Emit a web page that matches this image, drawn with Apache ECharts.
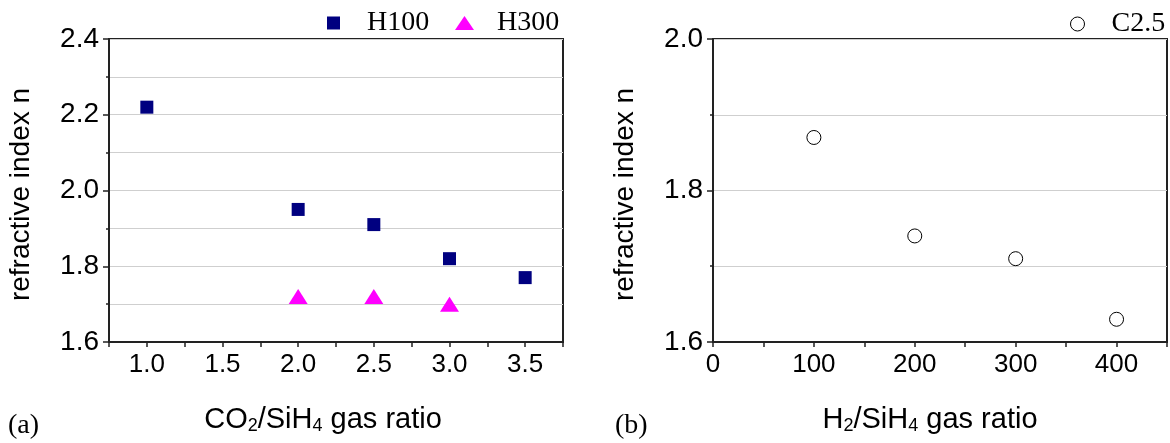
<!DOCTYPE html>
<html>
<head>
<meta charset="utf-8">
<script src="https://cdn.jsdelivr.net/npm/echarts@6/dist/echarts.min.js"></script>
<style>
  html, body { margin: 0; padding: 0; background: #fff; }
</style>
</head>
<body>
<div id="refractiveChart" style="width: 1170px;height:443px;"></div>
<script>
// (a) 折射率 vs CO2/SiH4
const xCO2H100 = [1.0, 2.0, 2.5, 3.0, 3.5]
const nH100 = [2.22, 1.95, 1.91, 1.82, 1.77]
const xCO2H300 = [2.0, 2.5, 3.0]
const nH300 = [1.72, 1.72, 1.70]
// (b) 折射率 vs H2/SiH4
const xH2C25 = [100, 200, 300, 400]
const nC25 = [1.87, 1.74, 1.71, 1.63]

const sans = 'Liberation Sans'
const serif = 'Liberation Serif'

function pairs (xs, ys) {
  return xs.map(function (x, i) { return [x, ys[i]] })
}

function nameRich () {
  return {
    t: {fontSize: 29, fontFamily: sans, color: '#000'},
    s: {fontSize: 18, fontFamily: sans, color: '#000', padding: [12, 0, 0, 0]}
  }
}

function yAxisCommon (min, max, gridIndex) {
  return {
    type: 'value',
    gridIndex: gridIndex,
    min: min,
    max: max,
    interval: 0.2,
    name: 'refractive index n',
    nameLocation: 'middle',
    nameGap: 74,
    nameTextStyle: {fontSize: 28, fontFamily: sans, color: '#000', padding: [0, 8, 0, 0]},
    axisLine: {show: true, lineStyle: {color: '#222', width: 2}},
    axisTick: {show: true, length: 6, lineStyle: {color: '#222', width: 1.5}},
    minorTick: {show: true, splitNumber: 2, length: 3, lineStyle: {color: '#222', width: 1.5}},
    axisLabel: {
      fontSize: 28,
      fontFamily: sans,
      color: '#000',
      margin: 10,
      formatter: function (v) { return v.toFixed(1) }
    },
    splitLine: {show: true, lineStyle: {color: '#cfcfcf', width: 1}},
    minorSplitLine: {show: true, lineStyle: {color: '#cfcfcf', width: 1}}
  }
}

let option = {
  backgroundColor: '#fff',
  animation: false,
  title: [
    {text: '(a)', left: 8, top: 412, padding: 0, textStyle: {fontSize: 28, fontFamily: serif, fontWeight: 'normal', color: '#000'}},
    {text: '(b)', left: 615, top: 412, padding: 0, textStyle: {fontSize: 28, fontFamily: serif, fontWeight: 'normal', color: '#000'}}
  ],
  legend: [
    {
      data: [{name: 'H100', icon: 'rect'}],
      left: 327,
      top: 9,
      padding: 0,
      itemWidth: 13,
      itemHeight: 13,
      textStyle: {fontSize: 28, fontFamily: serif, color: '#000', padding: [0, 0, 0, 22]}
    },
    {
      data: [{name: 'H300', icon: 'triangle'}],
      left: 455,
      top: 9,
      padding: 0,
      itemWidth: 19,
      itemHeight: 14,
      textStyle: {fontSize: 28, fontFamily: serif, color: '#000', padding: [0, 0, 0, 18]}
    },
    {
      data: [{name: 'C2.5', icon: 'circle'}],
      left: 1070,
      top: 10,
      padding: 0,
      itemWidth: 14,
      itemHeight: 14,
      itemStyle: {color: '#fff', borderColor: '#000', borderWidth: 1, opacity: 1},
      textStyle: {fontSize: 28, fontFamily: serif, color: '#000', padding: [0, 0, 0, 22]}
    }
  ],
  grid: [
    {left: 109, right: 607, top: 39, bottom: 101, show: true, borderColor: '#222', borderWidth: 2, backgroundColor: '#fff'},
    {left: 713, right: 2, top: 39, bottom: 101, show: true, borderColor: '#222', borderWidth: 2, backgroundColor: '#fff'}
  ],
  xAxis: [
    {
      type: 'value',
      gridIndex: 0,
      min: 0.75,
      max: 3.75,
      interval: 0.25,
      name: '{t|CO}{s|2}{t|/SiH}{s|4}{t| gas ratio}',
      nameLocation: 'middle',
      nameGap: 63,
      nameTextStyle: {rich: nameRich(), padding: [0, 26, 0, 0]},
      axisLine: {show: true, onZero: false, lineStyle: {color: '#222', width: 2}},
      axisTick: {show: true, length: 5, lineStyle: {color: '#222', width: 1.5}},
      axisLabel: {
        fontSize: 26,
        fontFamily: sans,
        color: '#000',
        margin: 10,
        formatter: function (v) {
          return Math.abs(v * 2 - Math.round(v * 2)) < 1e-6 ? v.toFixed(1) : ''
        }
      },
      splitLine: {show: false}
    },
    {
      type: 'value',
      gridIndex: 1,
      min: 0,
      max: 450,
      interval: 50,
      name: '{t|H}{s|2}{t|/SiH}{s|4}{t| gas ratio}',
      nameLocation: 'middle',
      nameGap: 63,
      nameTextStyle: {rich: nameRich(), padding: [0, 20, 0, 0]},
      axisLine: {show: true, onZero: false, lineStyle: {color: '#222', width: 2}},
      axisTick: {show: true, length: 5, lineStyle: {color: '#222', width: 1.5}},
      axisLabel: {
        fontSize: 26,
        fontFamily: sans,
        color: '#000',
        margin: 10,
        formatter: function (v) {
          return (v % 100 === 0 && v <= 400) ? String(v) : ''
        }
      },
      splitLine: {show: false}
    }
  ],
  yAxis: [
    yAxisCommon(1.6, 2.4, 0),
    yAxisCommon(1.6, 2.0, 1)
  ],
  series: [
    {
      name: 'H100',
      type: 'scatter',
      xAxisIndex: 0,
      yAxisIndex: 0,
      symbol: 'rect',
      symbolSize: 13,
      itemStyle: {color: '#000080', opacity: 1},
      data: pairs(xCO2H100, nH100)
    },
    {
      name: 'H300',
      type: 'scatter',
      xAxisIndex: 0,
      yAxisIndex: 0,
      symbol: 'triangle',
      symbolSize: [19, 15],
      itemStyle: {color: '#ff00ff', opacity: 1},
      data: pairs(xCO2H300, nH300)
    },
    {
      name: 'C2.5',
      type: 'scatter',
      xAxisIndex: 1,
      yAxisIndex: 1,
      symbol: 'circle',
      symbolSize: 14,
      itemStyle: {color: '#fff', borderColor: '#000', borderWidth: 1, opacity: 1},
      data: pairs(xH2C25, nC25)
    }
  ]
}

let refractiveChart = echarts.init(document.getElementById('refractiveChart'))
refractiveChart.setOption(option)
</script>
</body>
</html>
